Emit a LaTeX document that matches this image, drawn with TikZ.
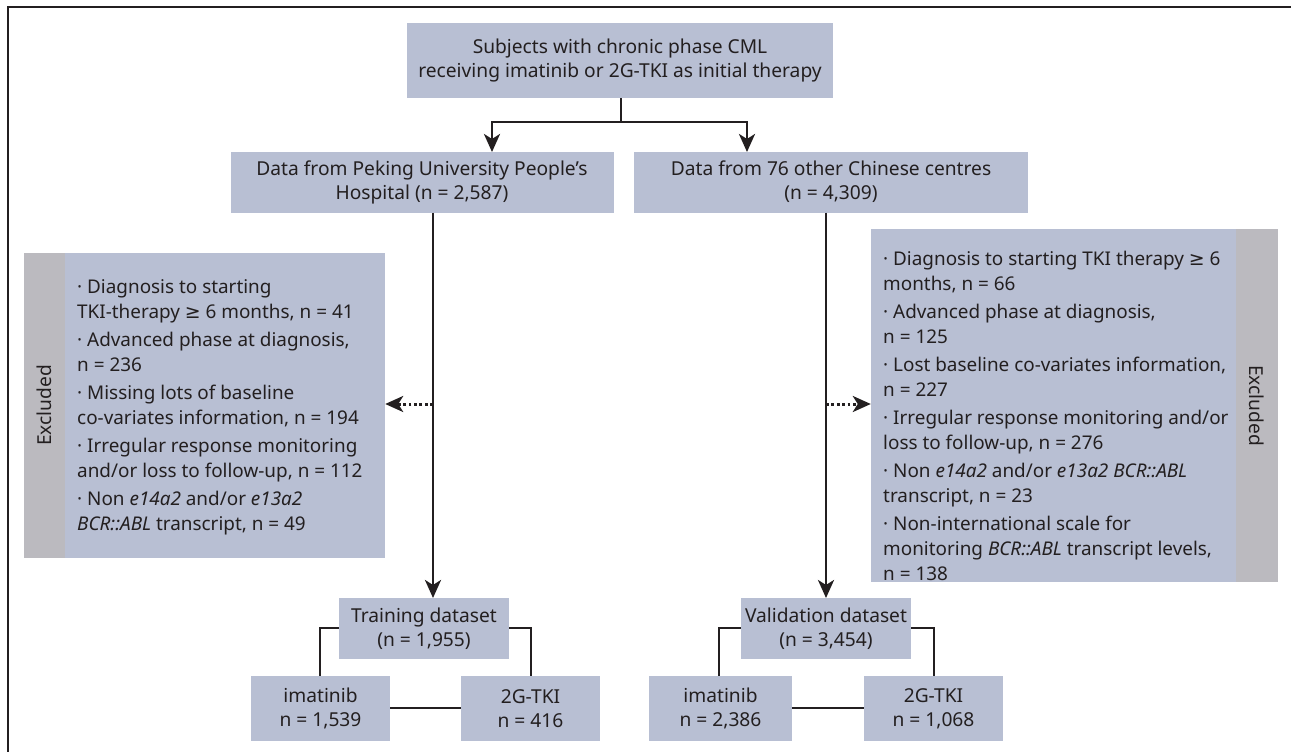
\documentclass[tikz,border=0pt]{standalone}
\usepackage{fontspec}
\setmainfont{Noto Sans}
\newfontfamily\symfont{DejaVu Sans}
\newcommand{\gesym}{{\symfont ≥}}
\usetikzlibrary{arrows.meta}
\definecolor{boxblue}{HTML}{B8BFD3}
\definecolor{stripgray}{HTML}{BBBABF}
\definecolor{ink}{HTML}{231F20}
\tikzset{
  box/.style={fill=boxblue, draw=none, inner sep=0pt, align=center, text=ink,
    font=\fontsize{19.2}{24}\selectfont},
  strip/.style={fill=stripgray, draw=none, inner sep=0pt},
  listtext/.style={inner sep=0pt, align=left, anchor=north west, text=ink,
    font=\fontsize{18.9}{25}\selectfont},
  conn/.style={draw=ink, line width=2.8pt},
  arr/.style={conn, -{Stealth[length=18pt,width=16pt,inset=5pt]}},
  dotarr/.style={draw=ink, line width=3pt, dash pattern=on 2.8pt off 2.6pt,
    -{Stealth[length=18pt,width=16pt,inset=5pt]}},
  rottext/.style={text=ink, font=\fontsize{19.2}{24}\selectfont, inner sep=0pt}
}
\begin{document}
\begin{tikzpicture}[x=1pt,y=-1pt]
\useasboundingbox (0,0) rectangle (1291,752);
\clip (0,0) rectangle (1291,752);
\fill[white] (0,0) rectangle (1291,752);
\draw[draw=ink, line width=2pt] (8,7) rectangle (1310,770);

% top
\node[box, minimum width=426pt, minimum height=75pt] (top) at (620,60.5)
  {Subjects with chronic phase CML\\receiving imatinib or 2G-TKI as initial therapy};
\node[box, minimum width=383pt, minimum height=61pt] (pk) at (422,182)
  {Data from Peking University People's\\Hospital (n = 2,587)};
\node[box, minimum width=394pt, minimum height=61pt] (oc) at (831,182)
  {Data from 76 other Chinese centres\\(n = 4,309)};

\coordinate (split) at (621,122);
\draw[conn] (top.south -| split) -- (split);
\draw[arr] (split) -| (492,152);
\draw[arr] (split) -| (747,152);

% left excluded
\node[strip, minimum width=42pt, minimum height=305pt] (lstrip) at (44.5,405.5) {};
\node[box, minimum width=320pt, minimum height=305pt] (lex) at (225,405.5) {};
\node[rottext, rotate=90] (lexl) at (lstrip) {Excluded};
\node[listtext] (ltxt) at (77,279.5) {%
· Diagnosis to starting\\TKI-therapy \gesym{} 6 months, n = 41\\[3pt]
· Advanced phase at diagnosis,\\n = 236\\[3pt]
· Missing lots of baseline\\co-variates information, n = 194\\[3pt]
· Irregular response monitoring\\and/or loss to follow-up, n = 112\\[3pt]
· Non \textit{e14a2} and/or \textit{e13a2}\\\textit{BCR::ABL} transcript, n = 49};

% right excluded
\node[box, minimum width=365pt, minimum height=353pt] (rex) at (1053.5,405.5) {};
\node[strip, minimum width=42pt, minimum height=353pt] (rstrip) at (1257,405.5) {};
\node[rottext, rotate=-90] (rexl) at (rstrip) {Excluded};
\node[listtext] (rtxt) at (883,250.5) {%
· Diagnosis to starting TKI therapy \gesym{} 6\\months, n = 66\\[3pt]
· Advanced phase at diagnosis,\\n = 125\\[3pt]
· Lost baseline co-variates information,\\n = 227\\[3pt]
· Irregular response monitoring and/or\\loss to follow-up, n = 276\\[3pt]
· Non \textit{e14a2} and/or \textit{e13a2 BCR::ABL}\\transcript, n = 23\\[3pt]
· Non-international scale for\\monitoring \textit{BCR::ABL} transcript levels,\\n = 138};

% datasets
\node[box, minimum width=170pt, minimum height=61pt] (tr) at (424,628.5)
  {Training dataset\\(n = 1,955)};
\node[box, minimum width=170pt, minimum height=61pt] (va) at (826,628.5)
  {Validation dataset\\(n = 3,454)};

\draw[arr] (pk.south -| 433,0) -- (433,598);
\draw[arr] (oc.south -| 826,0) -- (826,598);
\coordinate (ldot) at (433,404);
\coordinate (rdot) at (826,404);
\draw[dotarr] (ldot) -- (lex.east |- ldot);
\draw[dotarr] (rdot) -- (rex.west |- rdot);

\node[box, minimum width=139pt, minimum height=65pt] (ti) at (320.5,708.5)
  {imatinib\\n = 1,539};
\node[box, minimum width=139pt, minimum height=65pt] (tt) at (530.5,708.5)
  {2G-TKI\\n = 416};
\node[box, minimum width=143pt, minimum height=65pt] (vi) at (720.5,708.5)
  {imatinib\\n = 2,386};
\node[box, minimum width=139pt, minimum height=65pt] (vt) at (933.5,708.5)
  {2G-TKI\\n = 1,068};

\draw[conn] (tr.west |- 0,628) -| (ti.north -| 320,0);
\draw[conn] (tr.east |- 0,628) -| (tt.north -| 531,0);
\draw[conn] (ti.east |- 0,708) -- (tt.west |- 0,708);
\draw[conn] (va.west |- 0,628) -| (vi.north -| 719,0);
\draw[conn] (va.east |- 0,628) -| (vt.north -| 934,0);
\draw[conn] (vi.east |- 0,708) -- (vt.west |- 0,708);
\end{tikzpicture}
\end{document}
